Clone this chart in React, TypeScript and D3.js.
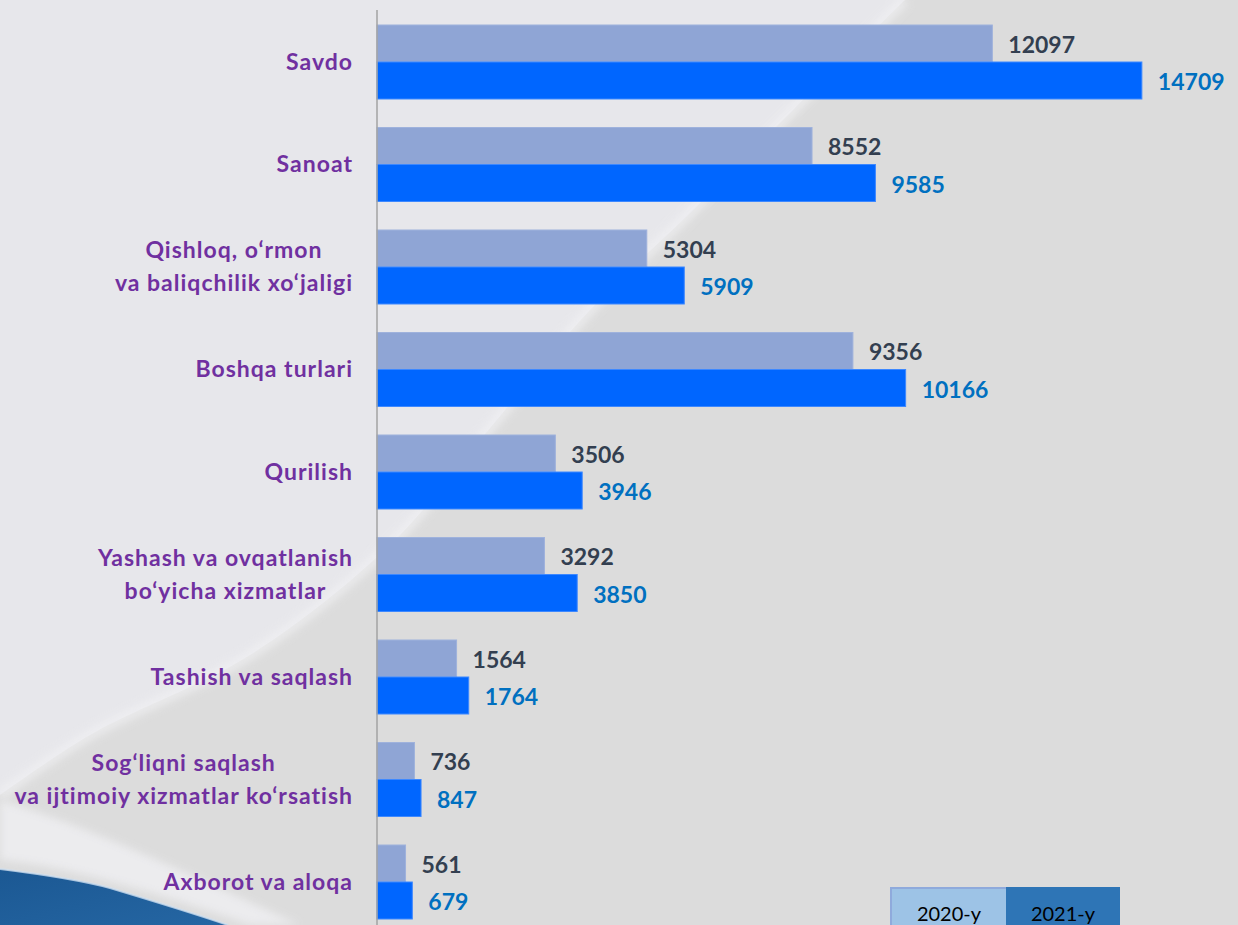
import React, { useEffect, useRef } from "react";
import * as d3 from "d3";

const categories: string[][] = [
  ["Savdo"],
  ["Sanoat"],
  ["Qishloq, o‘rmon", "va baliqchilik xo‘jaligi"],
  ["Boshqa turlari"],
  ["Qurilish"],
  ["Yashash va ovqatlanish", "bo‘yicha xizmatlar"],
  ["Tashish va saqlash"],
  ["Sog‘liqni saqlash", "va ijtimoiy xizmatlar ko‘rsatish"],
  ["Axborot va aloqa"],
];
const values2020 = [12097, 8552, 5304, 9356, 3506, 3292, 1564, 736, 561];
const values2021 = [14709, 9585, 5909, 10166, 3946, 3850, 1764, 847, 679];
const seriesNames = ["2020-y", "2021-y"];

const W = 1238;
const H = 925;
const FONT = "Lato, 'Open Sans', sans-serif";

export default function App() {
  const ref = useRef<SVGSVGElement | null>(null);

  useEffect(() => {
    document.body.style.margin = "0";
    const svg = d3.select(ref.current!);
    svg.selectAll("*").remove();

    const defs = svg.append("defs");
    defs
      .append("filter")
      .attr("id", "blur")
      .attr("x", "-50%")
      .attr("y", "-50%")
      .attr("width", "200%")
      .attr("height", "200%")
      .append("feGaussianBlur")
      .attr("stdDeviation", 4);
    const bg = defs
      .append("linearGradient")
      .attr("id", "blueWave")
      .attr("x1", "0")
      .attr("y1", "0")
      .attr("x2", "1")
      .attr("y2", "1");
    bg.append("stop").attr("offset", "0").attr("stop-color", "#1b5893");
    bg.append("stop").attr("offset", "1").attr("stop-color", "#2566a3");

    // background
    svg.append("rect").attr("width", W).attr("height", H).attr("fill", "#dcdcdc");
    const boundary: [number, number][] = [
      [905, 0],
      [793, 110],
      [693, 210],
      [590, 310],
      [480, 440],
      [390, 545],
      [250, 655],
      [90, 735],
      [0, 795],
    ];
    const curve = d3.line().curve(d3.curveCatmullRom);
    svg
      .append("path")
      .attr("d", curve(boundary) + `L0,0Z`)
      .attr("fill", "#e7e7eb");
    svg
      .append("path")
      .attr("d", curve(boundary)!)
      .attr("fill", "none")
      .attr("stroke", "#f2f2f4")
      .attr("stroke-width", 10)
      .attr("opacity", 0.7)
      .attr("filter", "url(#blur)");
    svg
      .append("path")
      .attr("d", "M0,800 L0,860 C60,865 150,890 250,925 L300,925 C200,880 100,830 0,800Z")
      .attr("fill", "#f0f0f3")
      .attr("opacity", 0.8)
      .attr("filter", "url(#blur)");
    // blue wave bottom-left
    svg
      .append("path")
      .attr("d", "M0,869 C40,874 80,880 110,888 C150,900 190,912 228,925 L0,925Z")
      .attr("fill", "url(#blueWave)");
    svg
      .append("path")
      .attr("d", "M0,869 C40,874 80,880 110,888 C150,900 190,912 228,925")
      .attr("fill", "none")
      .attr("stroke", "#cfe0f0")
      .attr("stroke-width", 2)
      .attr("opacity", 0.8);

    // scales
    const y = d3
      .scaleBand<number>()
      .domain(d3.range(categories.length))
      .range([10.75, 933.25])
      .paddingInner(0.278)
      .paddingOuter(0.139);
    const ySub = d3.scaleBand<number>().domain([0, 1]).range([0, y.bandwidth()]);
    const x2020 = d3.scaleLinear().domain([0, 15000]).range([377, 377 + 763]);
    const x2021 = d3.scaleLinear().domain([0, 15000]).range([377, 377 + 780]);

    const series = [
      { vals: values2020, x: x2020, fill: "#8fa5d5", stroke: "#9fb2dc", label: "#333f50" },
      { vals: values2021, x: x2021, fill: "#0066ff", stroke: "#3d88ff", label: "#0070c0" },
    ];

    series.forEach((s, si) => {
      const g = svg.append("g");
      g.selectAll("rect")
        .data(s.vals)
        .join("rect")
        .attr("x", s.x(0))
        .attr("y", (_, i) => y(i)! + ySub(si)!)
        .attr("width", (d) => s.x(d) - s.x(0))
        .attr("height", ySub.bandwidth())
        .attr("fill", s.fill)
        .attr("stroke", s.stroke)
        .attr("stroke-width", 1);
      g.selectAll("text")
        .data(s.vals)
        .join("text")
        .attr("x", (d) => s.x(d) + 16)
        .attr("y", (_, i) => y(i)! + ySub(si)! + ySub.bandwidth() / 2 + 9.5)
        .attr("font-family", FONT)
        .attr("font-weight", 700)
        .attr("font-size", 23)
        .attr("fill", s.label)
        .text((d) => String(d));
    });

    // axis line
    svg
      .append("line")
      .attr("x1", 377)
      .attr("x2", 377)
      .attr("y1", 10)
      .attr("y2", H)
      .attr("stroke", "#a3a3a3")
      .attr("stroke-width", 1.5);

    // category labels
    const labelRight = 352;
    categories.forEach((lines, i) => {
      const c = y(i)! + y.bandwidth() / 2;
      const g = svg.append("g");
      const texts = lines.map((ln, li) =>
        g
          .append("text")
          .attr("font-family", FONT)
          .attr("font-weight", 700)
          .attr("font-size", 23)
          .attr("letter-spacing", 1)
          .attr("fill", "#7030a0")
          .attr("y", c + 7.5 + (li - (lines.length - 1) / 2) * 33)
          .text(ln)
      );
      const widths = texts.map((t) => (t.node() as SVGTextElement).getComputedTextLength() - 1);
      const maxW = Math.max(...widths);
      texts.forEach((t) => t.attr("text-anchor", "middle").attr("x", labelRight - maxW / 2 + 0.5));
    });

    // legend
    const lg = svg.append("g");
    const cells = [
      { x: 891, w: 116, fill: "#9dc3e6", stroke: "#8faadc" },
      { x: 1007, w: 112, fill: "#2e75b6", stroke: "#2e75b6" },
    ];
    cells.forEach((cell, i) => {
      lg.append("rect")
        .attr("x", cell.x)
        .attr("y", 888)
        .attr("width", cell.w)
        .attr("height", 45)
        .attr("fill", cell.fill)
        .attr("stroke", cell.stroke)
        .attr("stroke-width", 2);
      lg.append("text")
        .attr("x", cell.x + cell.w / 2)
        .attr("y", 921)
        .attr("text-anchor", "middle")
        .attr("font-family", FONT)
        .attr("font-size", 20)
        .attr("fill", "#000")
        .text(seriesNames[i]);
    });
  }, []);

  return (
    <svg
      ref={ref}
      width={W}
      height={H}
      style={{ position: "absolute", left: 0, top: 0, display: "block" }}
    />
  );
}
